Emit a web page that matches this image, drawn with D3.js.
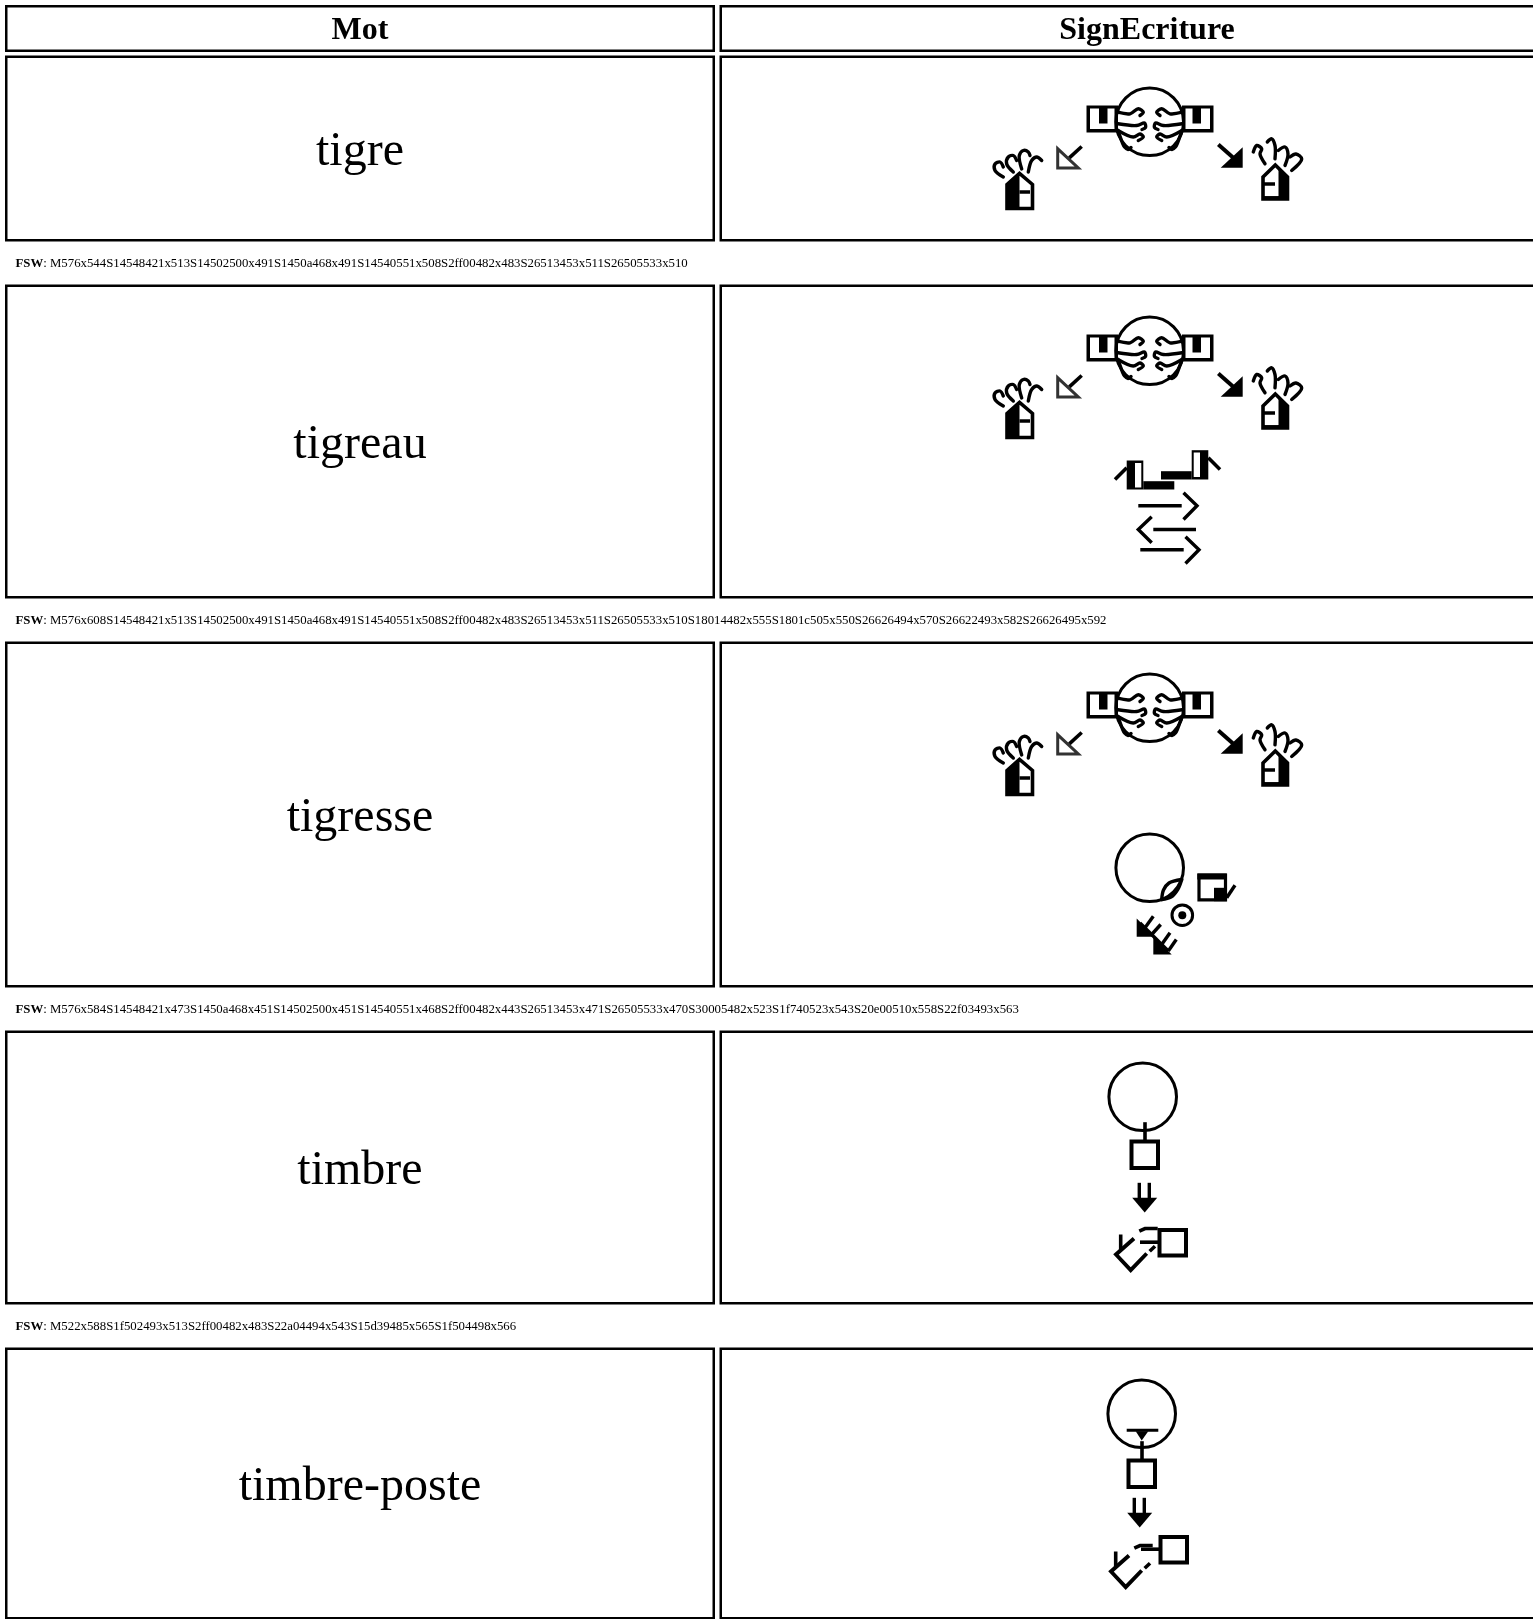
<!DOCTYPE html>
<html><head><meta charset="utf-8">
<style>html,body{margin:0;padding:0;background:#fff;overflow:hidden}svg{display:block}</style>
<script src="https://cdn.jsdelivr.net/npm/d3@7"></script>
</head><body>
<script>
// ---------- data ----------
const headers = ["Mot", "SignEcriture"];
const words = ["tigre", "tigreau", "tigresse", "timbre", "timbre-poste"];
const fswLabel = "FSW";
const fswStrings = [
  "M576x544S14548421x513S14502500x491S1450a468x491S14540551x508S2ff00482x483S26513453x511S26505533x510",
  "M576x608S14548421x513S14502500x491S1450a468x491S14540551x508S2ff00482x483S26513453x511S26505533x510S18014482x555S1801c505x550S26626494x570S26622493x582S26626495x592",
  "M576x584S14548421x473S1450a468x451S14502500x451S14540551x468S2ff00482x443S26513453x471S26505533x470S30005482x523S1f740523x543S20e00510x558S22f03493x563",
  "M522x588S1f502493x513S2ff00482x483S22a04494x543S15d39485x565S1f504498x566",
  "M523x587S33100491x508S2ff00482x483S1f502492x514S22a04492x542S15d39483x565S1f504499x561"
];
const fswShown = [true, true, true, true, false];

// ---------- symbol outlines, in symbol-local pixels ----------
const mirror = (prims, w) => prims.map(p => [p[0], p[1].map(q => [w - q[0], q[1]]), p[2]]);
const wrist = [["F",[[30,2.5],[61.5,2.5],[61.5,29.5],[30,29.5]]],
               ["W",[[33.5,5.5],[58,5.5],[58,26],[33.5,26]]],
               ["F",[[40.5,3],[49,3],[49,20.5],[40.5,20.5]]]];
const curls = [["C",[[30,9.2],[18,10.8],[9.7,5.8],[4.7,9.2],[8,12.5]]],
               ["C",[[30,20.8],[11.3,22.5],[3.5,20],[2.5,24.5],[6,26.5]]],
               ["C",[[30,27.5],[14.7,34],[8,31],[4.7,34],[9.7,37.5]]],
               ["C",[[30,27.5],[25.5,40],[23.5,44],[20,46.5],[17,44.5]]]];
const sq = (x0,y0,x1,y1) => [[x0,y0],[x1,y0],[x1,y1],[x0,y1],[x0,y0]];
const headCircle = ["O",[[33.7,34.8]],33.8];
const downDouble = [["L",[[6.3,0.8],[6.3,16]]],["L",[[16.3,0.8],[16.3,16]]],
                    ["F",[[-0.8,15.8],[24.2,15.8],[11.7,30.5]]]];
const GLYPHS = {
  S14548: [
    ["C",[[9.3,30],[1,23.5],[1,17],[6,15],[9.3,20]]],
    ["C",[[19.3,25],[12.7,17],[14.3,10],[19.3,8.5],[22.7,13.5]]],
    ["C",[[27.7,22],[25.3,8.5],[29.3,3.5],[34.3,5],[36,8.5]]],
    ["C",[[34.3,25],[37.7,13.5],[42.7,10],[47.7,13.5]]],
    ["P",[[13,61.5],[13,37.5],[25.5,26.5],[38.5,37.5],[38.5,61.5]]],
    ["F",[[12,62.5],[12,37],[25.5,25],[25.5,62.5]]],
    ["T",[[25.5,45],[36,45]]]
  ],
  S14540: [
    ["C",[[11,26.8],[6,16.8],[7.7,11.8],[2.7,8.5],[-0.7,15]]],
    ["C",[[21,21.8],[21,8.5],[17.7,1.8],[13.3,5]]],
    ["C",[[31,28.5],[34,17],[31,10],[24.3,13.5]]],
    ["C",[[37.7,33.5],[47.7,22],[42,17],[36,20]]],
    ["P",[[9,62],[9,40],[21.3,28],[33.5,40],[33.5,62]]],
    ["F",[[24.5,31],[34.5,40],[34.5,63],[24.5,63]]],
    ["T",[[8,47],[21,47]]],
    ["T",[[8,60.8],[30,60.8]]]
  ],
  S14502: [...curls, ...wrist],
  S1450a: mirror([...curls, ...wrist], 60),
  S2ff00: [headCircle],
  S30005: [headCircle, ["C",[[45.7,66.5],[47.5,57],[53,50],[65.7,46.5]]],["C",[[45.7,66.5],[55,64],[62,56],[65.7,46.5]]]],
  S26513: [["L",[[23.7,3.5],[11.3,14.8]],3.6],["P",[[-0.3,5.8],[-0.3,25],[20.3,25]],3,"#333"]],
  S26505: [["L",[[0.3,3.5],[15.3,16.8]],4],["F",[[24.7,6.2],[24.7,26.8],[2.7,26.8]]]],
  S18014: [
    ["L",[[-1,19.5],[10.7,7.8]],3.6],
    ["F",[[10.7,0.5],[27.3,0.5],[27.3,29.5],[10.7,29.5]]],
    ["W",[[19,3],[25.3,3],[25.3,27.5],[19,27.5]]],
    ["F",[[27.3,21.2],[58.3,21.2],[58.3,29.5],[27.3,29.5]]]
  ],
  S1801c: [
    ["F",[[-1,21.2],[29.7,21.2],[29.7,29.5],[-1,29.5]]],
    ["F",[[29.7,0.2],[46.3,0.2],[46.3,29.5],[29.7,29.5]]],
    ["W",[[31.7,2.5],[38,2.5],[38,27],[31.7,27]]],
    ["L",[[46.3,7.8],[58,19.5]],3.6]
  ],
  S26626: [["L",[[-1.7,15.8],[41.7,15.8]]],["L",[[43.5,2.8],[57,15.8],[43.5,29.5]]]],
  S26622: [["L",[[13.7,2.8],[0.3,15.5],[13.7,28.8]]],["L",[[15.3,15.5],[58,15.5]]]],
  S1f740: [
    ["P",[[1,2],[27.5,2],[27.5,26.8],[1,26.8]],3.2],
    ["F",[[-0.7,0.5],[28.7,0.5],[28.7,6.5],[-0.7,6.5]]],
    ["F",[[16,14.8],[28.7,14.8],[28.7,28.2],[16,28.2]]],
    ["L",[[28.7,24.8],[37,12.2]]]
  ],
  S20e00: [["O",[[10.3,12.2]],10.3],["D",[[10.3,12.2]],4]],
  S22f03: [
    ["F",[[-1.3,5.5],[-1.3,23.8],[17,23.8]]],
    ["F",[[15.3,23.2],[15.3,41.5],[33.7,41.5]]],
    ["L",[[2,10],[30.3,38]],3.4],
    ["L",[[7,14.8],[15.3,3.2]],3.4],
    ["L",[[13.7,21.5],[22.7,11.5]],3.4],
    ["L",[[23.7,31.5],[32,19.8]],3.4],
    ["L",[[30.3,38],[38.3,26.5]],3.4]
  ],
  S1f502: [["P",sq(0.5,19.5,27,46),4],["L",[[14,0.2],[14,18.2]],3.6]],
  S22a04: downDouble,
  S15d39: [
    ["L",[[19,12.5],[1,28.5],[15.7,44.2],[31.7,27.5]],3.9],
    ["L",[[5.7,8.5],[5.7,24.2]],3.6],
    ["L",[[24.3,5.2],[30,2.5],[42.7,2.5]],3.6],
    ["L",[[34.7,25.2],[40,20.2]],3.6]
  ],
  S1f504: [["P",sq(18.5,2,45,27.5),4],["L",[[-1,14.2],[17.3,14.2]],3.6]],
  S33100: [["L",[[0.7,1.2],[32.3,1.2]],3],["F",[[9.7,2.2],[22.3,2.2],[15.7,11.5]]]]
};

// ---------- layout ----------
const W = 1533, H = 1619;
const svg = d3.select("body").append("svg").attr("width", W).attr("height", H);
const defs = svg.append("defs");
defs.append("filter").attr("id","soft").append("feGaussianBlur").attr("stdDeviation",0.55);
defs.append("filter").attr("id","softText").append("feGaussianBlur").attr("stdDeviation",0.3);

const parse = s => {
  const m = s.match(/^M(\d{3})x(\d{3})/);
  const syms = [...s.matchAll(/(S[0-9a-f]{5})(\d{3})x(\d{3})/g)].map(d => ({key:d[1], x:+d[2], y:+d[3]}));
  return {maxX:+m[1], maxY:+m[2], syms, minX:d3.min(syms,d=>d.x), minY:d3.min(syms,d=>d.y)};
};
const rows = fswStrings.map(parse);
const unit = 2, pad = 31.5, strip = 44, gap = 4.5;
const colX = [5, 719.5], colW = [710, 860];
const colMid = i => colX[i] + colW[i]/2;
const headTop = 5, headH = 46;

let cursor = headTop + headH + gap;
rows.forEach((r,i) => {
  r.top = cursor;
  r.h = 2*pad + unit*(r.maxY - r.minY);
  cursor = r.top + r.h + strip;
});

const box = (x,y,w,h) => svg.append("rect").attr("x",x+1.25).attr("y",y+1.25).attr("width",w-2.5).attr("height",h-1.5)
  .attr("fill","#fff").attr("stroke","#000").attr("stroke-width",2.5);

// header
const headMid = [colMid(0), 1147];
headers.forEach((t,i) => {
  box(colX[i], headTop, colW[i], headH);
  svg.append("text").attr("x",headMid[i]).attr("y",headTop+34)
    .attr("text-anchor","middle").attr("font-family","Liberation Serif").attr("font-weight","bold")
    .attr("font-size",32).attr("filter","url(#softText)").text(t);
});

const lineStr = d3.line();
const curveStr = d3.line().curve(d3.curveCatmullRom.alpha(0.5));
function drawSymbol(g, prims){
  prims.forEach(p => {
    const [t, pts, a, c] = p;
    if (t==="F") g.append("path").attr("d",lineStr(pts)+"Z").attr("fill","#000");
    else if (t==="W") g.append("path").attr("d",lineStr(pts)+"Z").attr("fill","#fff");
    else if (t==="P") g.append("path").attr("d",lineStr(pts)+"Z").attr("fill","#fff").attr("stroke",c||"#000").attr("stroke-width",a||3.6);
    else if (t==="L") g.append("path").attr("d",lineStr(pts)).attr("fill","none").attr("stroke","#000").attr("stroke-width",a||3.4);
    else if (t==="T") g.append("path").attr("d",lineStr(pts)).attr("fill","none").attr("stroke","#000").attr("stroke-width",3.5);
    else if (t==="C") g.append("path").attr("d",curveStr(pts)).attr("fill","none").attr("stroke","#000").attr("stroke-width",3.4).attr("stroke-linecap","round");
    else if (t==="O") g.append("circle").attr("cx",pts[0][0]).attr("cy",pts[0][1]).attr("r",a).attr("fill","none").attr("stroke","#000").attr("stroke-width",3);
    else if (t==="D") g.append("circle").attr("cx",pts[0][0]).attr("cy",pts[0][1]).attr("r",a).attr("fill","#000");
  });
}

rows.forEach((r,i) => {
  box(colX[0], r.top, colW[0], r.h);
  box(colX[1], r.top, colW[1], r.h);
  svg.append("text").attr("x",colMid(0)).attr("y",r.top + r.h/2 + 17)
    .attr("text-anchor","middle").attr("font-family","Liberation Serif")
    .attr("font-size",48).attr("filter","url(#softText)").text(words[i]);

  const ctr = (r.minX + r.maxX)/2;
  const cx = 1149;
  const xs = d3.scaleLinear().domain([ctr, ctr+1]).range([cx, cx+unit]);
  const ys = d3.scaleLinear().domain([r.minY, r.minY+1]).range([r.top+pad, r.top+pad+unit]);
  const sign = svg.append("g").attr("filter","url(#soft)");
  r.syms.forEach(s => {
    const g = sign.append("g").attr("transform",`translate(${xs(s.x)},${ys(s.y)})`);
    drawSymbol(g, GLYPHS[s.key] || []);
  });

  if (fswShown[i]) {
    const t = svg.append("text").attr("x",15.5).attr("y",r.top+r.h+26.5)
      .attr("font-family","Liberation Serif").attr("font-size",12.8).attr("filter","url(#softText)");
    t.append("tspan").attr("font-weight","bold").text(fswLabel);
    t.append("tspan").text(": "+fswStrings[i]);
  }
});
</script>
</body></html>
